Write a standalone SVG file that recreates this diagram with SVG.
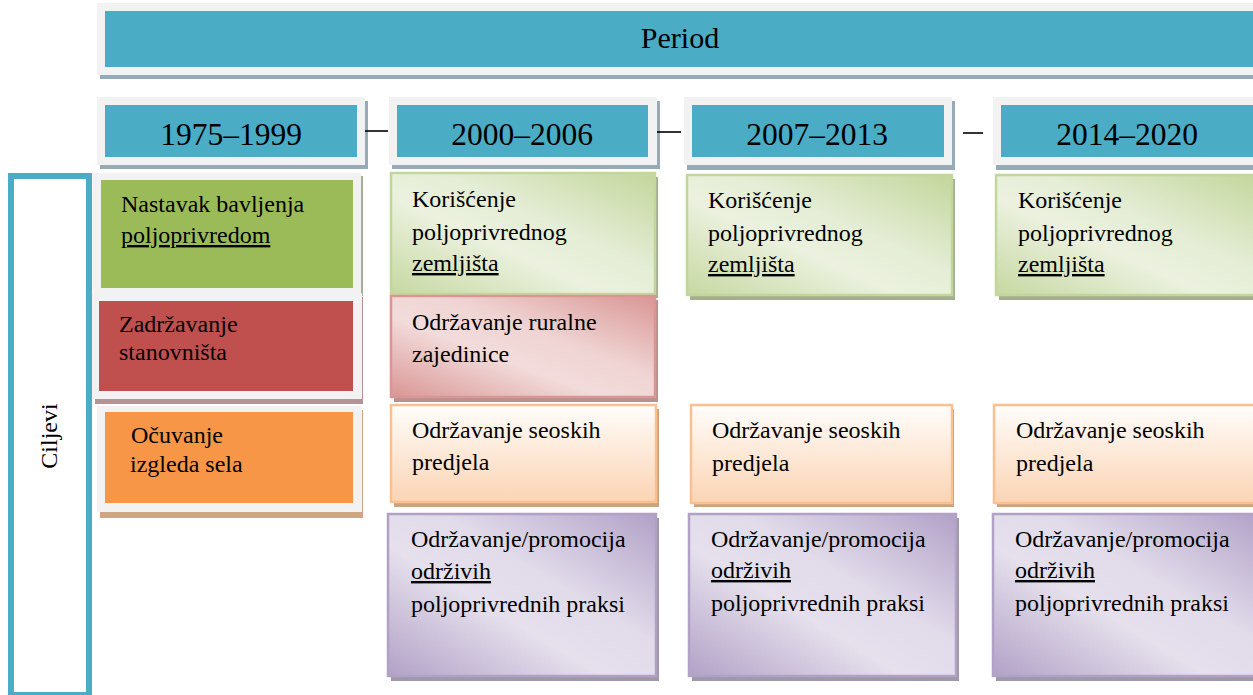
<svg xmlns="http://www.w3.org/2000/svg" width="1253" height="695" viewBox="0 0 1253 695">
<defs>
<linearGradient id="gGreen" x1="1" y1="0" x2="0" y2="1">
<stop offset="0" stop-color="#c3d69b"/><stop offset="0.4" stop-color="#e4edd5"/><stop offset="0.6" stop-color="#ebf1de"/><stop offset="1" stop-color="#c6d8a1"/>
</linearGradient>
<linearGradient id="gPink" x1="1" y1="0" x2="0" y2="1">
<stop offset="0" stop-color="#d99694"/><stop offset="0.4" stop-color="#efd4d3"/><stop offset="0.6" stop-color="#f2dcdb"/><stop offset="1" stop-color="#d99694"/>
</linearGradient>
<linearGradient id="gPurple" x1="1" y1="0" x2="0" y2="1">
<stop offset="0" stop-color="#b2a1c7"/><stop offset="0.4" stop-color="#e1dbea"/><stop offset="0.6" stop-color="#e5e0ec"/><stop offset="1" stop-color="#b2a1c7"/>
</linearGradient>
<linearGradient id="gOrange" x1="0" y1="0" x2="0" y2="1">
<stop offset="0" stop-color="#fffdfb"/><stop offset="1" stop-color="#fbd4b4"/>
</linearGradient>
</defs>
<style>
text{font-family:"Liberation Serif","Times New Roman",serif;fill:#000}
.t{font-size:24px}
.yr{font-size:31.5px;text-anchor:middle}
.frame{fill:#f2f2f2}
.teal{fill:#4bacc6}
.shB{fill:#97abb6}
.green{fill:url(#gGreen);stroke:#c3d69b;stroke-width:2.5}
.pink{fill:url(#gPink);stroke:#d99694;stroke-width:2.5}
.purple{fill:url(#gPurple);stroke:#b2a1c7;stroke-width:2.5}
.orange{fill:url(#gOrange);stroke:#fac08f;stroke-width:2.5}
.u{text-decoration:underline}
.conn{stroke:#000;stroke-width:1.6}
</style>
<rect width="1253" height="695" fill="#fff"/>

<g id="period">
<rect class="shB" x="100" y="7" width="1160" height="72"/>
<rect class="frame" x="97" y="3" width="1160" height="72"/>
<rect class="teal" x="105" y="11" width="1155" height="56"/>
<text x="680" y="48" style="font-size:30px;text-anchor:middle">Period</text>
</g>

<g id="y1975">
<rect class="shB" x="100" y="101" width="268" height="68"/>
<rect class="frame" x="97" y="97" width="268" height="68"/>
<rect class="teal" x="105" y="105" width="252" height="52"/>
<text class="yr" x="231" y="145">1975–1999</text>
</g>
<g id="y2000">
<rect class="shB" x="392" y="101" width="268" height="68"/>
<rect class="frame" x="389" y="97" width="268" height="68"/>
<rect class="teal" x="397" y="105" width="251" height="52"/>
<text class="yr" x="522" y="145">2000–2006</text>
</g>
<g id="y2007">
<rect class="shB" x="687" y="101" width="268" height="69"/>
<rect class="frame" x="684" y="97" width="268" height="68"/>
<rect class="teal" x="692" y="105" width="252" height="52"/>
<text class="yr" x="817" y="145">2007–2013</text>
</g>
<g id="y2014">
<rect class="shB" x="996" y="101" width="268" height="69"/>
<rect class="frame" x="993" y="97" width="268" height="68"/>
<rect class="teal" x="1001" y="105" width="260" height="52"/>
<text class="yr" x="1127" y="145">2014–2020</text>
</g>

<g id="connectors">
<line class="conn" x1="365" y1="131" x2="388" y2="131"/>
<line class="conn" x1="657" y1="132" x2="681" y2="132"/>
<line class="conn" x1="963" y1="133" x2="983" y2="133"/>
</g>

<g id="ciljevi">
<rect x="11" y="176" width="78" height="519" fill="none" stroke="#4bacc6" stroke-width="6"/>
<text class="t" transform="translate(57,436) rotate(-90)" text-anchor="middle">Ciljevi</text>
</g>

<g id="c1-green">
<rect x="96" y="176" width="267" height="120" fill="#a6ad95"/>
<rect class="frame" x="93" y="173" width="268" height="120"/>
<rect x="101" y="180" width="252" height="108" fill="#9bbb59"/>
<text class="t" x="121" y="212">Nastavak bavljenja</text>
<text class="t u" x="121" y="243">poljoprivredom</text>
</g>
<g id="c1-red">
<rect x="95" y="297" width="268" height="107" fill="#b39494"/>
<rect class="frame" x="92" y="293" width="270" height="106"/>
<rect x="99" y="301" width="254" height="90" fill="#c0504d"/>
<text class="t" x="119" y="332">Zadržavanje</text>
<text class="t" x="119" y="360">stanovništa</text>
</g>
<g id="c1-orange">
<rect x="100" y="410" width="263" height="108" fill="#cfa586"/>
<rect class="frame" x="97" y="406" width="265" height="106"/>
<rect x="105" y="412" width="248" height="91" fill="#f79646"/>
<text class="t" x="131" y="443">Očuvanje</text>
<text class="t" x="130" y="472">izgleda sela</text>
</g>

<g id="c2-green">
<rect x="394" y="177" width="264" height="121" fill="#a5ad90"/>
<rect class="green" x="391" y="173" width="264" height="121"/>
<text class="t" x="412" y="207">Korišćenje</text>
<text class="t" x="412" y="240">poljoprivrednog</text>
<text class="t u" x="412" y="271">zemljišta</text>
</g>
<g id="c2-pink">
<rect x="394" y="300" width="264" height="102" fill="#b59292"/>
<rect class="pink" x="391" y="296" width="264" height="101"/>
<text class="t" x="412" y="330">Održavanje ruralne</text>
<text class="t" x="412" y="362">zajedinice</text>
</g>
<g id="c2-orange">
<rect x="394" y="409" width="265" height="98" fill="#c9a483"/>
<rect class="orange" x="391" y="405" width="265" height="97"/>
<text class="t" x="412" y="438">Održavanje seoskih</text>
<text class="t" x="412" y="470">predjela</text>
</g>
<g id="c2-purple">
<rect x="391" y="518" width="268" height="163" fill="#9f98a8"/>
<rect class="purple" x="388" y="514" width="268" height="162"/>
<text class="t" x="411" y="547">Održavanje/promocija</text>
<text class="t u" x="411" y="579">održivih</text>
<text class="t" x="411" y="612">poljoprivrednih praksi</text>
</g>

<g id="c3-green">
<rect x="690" y="179" width="265" height="121" fill="#a5ad90"/>
<rect class="green" x="687" y="175" width="265" height="120"/>
<text class="t" x="708" y="208">Korišćenje</text>
<text class="t" x="708" y="241">poljoprivrednog</text>
<text class="t u" x="708" y="272">zemljišta</text>
</g>
<g id="c3-orange">
<rect x="694" y="409" width="260" height="98" fill="#c9a483"/>
<rect class="orange" x="691" y="405" width="261" height="98"/>
<text class="t" x="712" y="438">Održavanje seoskih</text>
<text class="t" x="712" y="471">predjela</text>
</g>
<g id="c3-purple">
<rect x="692" y="518" width="267" height="163" fill="#9f98a8"/>
<rect class="purple" x="689" y="514" width="267" height="162"/>
<text class="t" x="711" y="547">Održavanje/promocija</text>
<text class="t u" x="711" y="578">održivih</text>
<text class="t" x="711" y="611">poljoprivrednih praksi</text>
</g>

<g id="c4-green">
<rect x="999" y="179" width="265" height="121" fill="#a5ad90"/>
<rect class="green" x="996" y="175" width="265" height="120"/>
<text class="t" x="1018" y="208">Korišćenje</text>
<text class="t" x="1018" y="241">poljoprivrednog</text>
<text class="t u" x="1018" y="272">zemljišta</text>
</g>
<g id="c4-orange">
<rect x="997" y="409" width="265" height="98" fill="#c9a483"/>
<rect class="orange" x="994" y="405" width="265" height="98"/>
<text class="t" x="1016" y="438">Održavanje seoskih</text>
<text class="t" x="1016" y="471">predjela</text>
</g>
<g id="c4-purple">
<rect x="996" y="518" width="268" height="163" fill="#9f98a8"/>
<rect class="purple" x="993" y="514" width="268" height="162"/>
<text class="t" x="1015" y="547">Održavanje/promocija</text>
<text class="t u" x="1015" y="578">održivih</text>
<text class="t" x="1015" y="611">poljoprivrednih praksi</text>
</g>
</svg>
